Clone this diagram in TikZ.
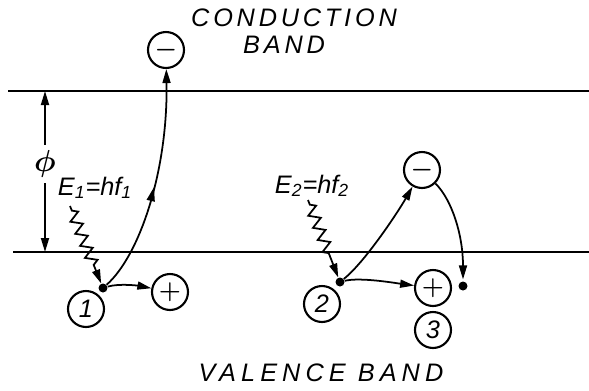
\documentclass[tikz,border=0pt]{standalone}
\usepackage{fontspec}
\usepackage{amsmath,bm}
\newfontfamily\handfont{Liberation Sans}[LetterSpace=15]
\usetikzlibrary{arrows.meta,decorations.pathmorphing,decorations.markings}

\begin{document}
\begin{tikzpicture}[x=0.02cm, y=-0.02cm,
  bandline/.style={line width=1.5pt},
  carrier/.style={circle, draw, line width=1.2pt, minimum size=0.72cm, inner sep=0pt, font=\Large\boldmath},
  stepnum/.style={circle, draw, line width=1.2pt, minimum size=0.72cm, inner sep=0pt, font=\handfont\addfontfeature{LetterSpace=0}\itshape\Large},
  electron/.style={circle, fill, inner sep=0pt, minimum size=0.18cm},
  flow/.style={-{Triangle[length=2.8mm,width=1.6mm]}, line width=1pt},
  photon/.style={flow, decorate, decoration={zigzag, segment length=2.6mm, amplitude=1.1mm, pre length=1mm, post length=4mm}},
  midarrow/.style={postaction={decorate}, decoration={markings, mark=at position #1 with {\arrow{Triangle[length=2.8mm,width=1.6mm]}}}},
  bandtext/.style={font=\handfont\itshape\Large},
  energy/.style={font=\handfont\addfontfeature{LetterSpace=0}\itshape\Large},
]
\useasboundingbox (0,0) rectangle (589,390);

% === band edges ===
\coordinate (cbleft) at (8,91);
\coordinate (cbright) at (589,91);
\coordinate (vbleft) at (13,252);
\coordinate (vbright) at (589,252);
\draw[bandline] (cbleft) -- (cbright);
\draw[bandline] (vbleft) -- (vbright);

\node[bandtext] (condword) at (294,18) {CONDUCTION};
\node[bandtext] (condband) at (284,45) {BAND};
\node[bandtext, font=\handfont\addfontfeature{LetterSpace=20}\itshape\Large] (valence) at (321,373) {VALENCE BAND};

% === gap phi ===
\coordinate (phitop) at (45,91);
\coordinate (phibot) at (45,252);
\node[inner sep=3pt, font=\LARGE] (phi) at (45,164) {$\bm{\phi}$};
\draw[flow] (phi) -- (phitop);
\draw[flow] (phi) -- (phibot);

% === case 1 ===
\node[energy, anchor=base] (eone) at (95,195) {E\textsubscript{1}=hf\textsubscript{1}};
\coordinate (photon1) at (70,206);
\node[electron] (dot1) at (103,288) {};
\node[carrier] (minus1) at (166,50) {$-$};
\node[carrier] (plus1) at (170,292) {$+$};
\node[stepnum] (num1) at (86,309) {1};

\draw[photon] (photon1) -- (dot1);
\draw[flow, midarrow=0.48] (dot1) .. controls (140,255) and (168,170) .. (minus1);
\draw[flow] (dot1) .. controls (120,283) and (140,286) .. (plus1);

% === case 2 and 3 ===
\node[energy, anchor=base] (etwo) at (312,193) {E\textsubscript{2}=hf\textsubscript{2}};
\coordinate (photon2) at (308,200);
\node[electron] (dot2) at (340,282) {};
\node[electron] (dot3) at (463,286) {};
\node[carrier] (minus2) at (422,170) {$-$};
\node[carrier] (plus2) at (433,288) {$+$};
\node[stepnum] (num2) at (322,304) {2};
\node[stepnum] (num3) at (433,330) {3};

\draw[photon] (photon2) -- (dot2);
\draw[flow] (dot2) .. controls (365,262) and (398,212) .. (minus2);
\draw[flow] (dot2) .. controls (360,277) and (395,283) .. (plus2);
\draw[flow, shorten >=1pt] (minus2) .. controls (452,200) and (463,235) .. (dot3);

\end{tikzpicture}
\end{document}
